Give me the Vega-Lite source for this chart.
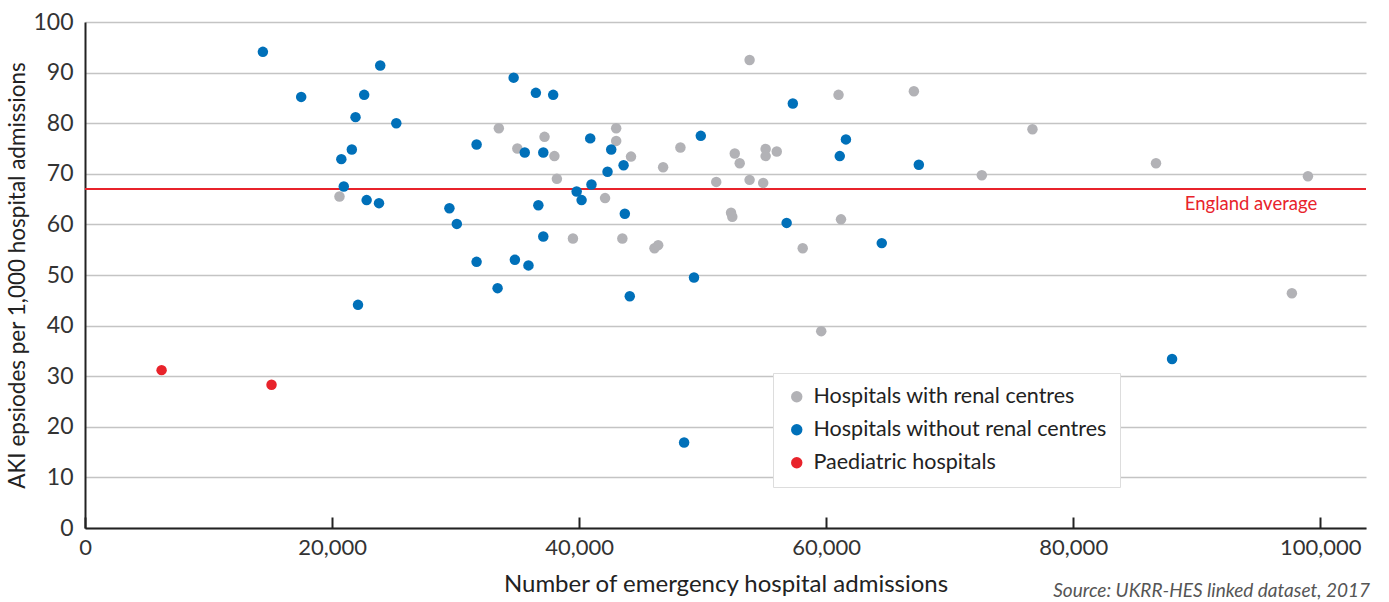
{
  "$schema": "https://vega.github.io/schema/vega-lite/v6.json",
  "autosize": {"type": "none"},
  "width": 1281,
  "height": 506,
  "padding": {"left": 85, "top": 22, "right": 23, "bottom": 74},
  "background": "white",
  "config": {
    "font": "Lato",
    "view": {"stroke": null}
  },
  "title": {
    "text": "Source: UKRR-HES linked dataset, 2017",
    "orient": "bottom",
    "anchor": "end",
    "frame": "group",
    "font": "Lato",
    "fontStyle": "italic",
    "fontWeight": "normal",
    "fontSize": 19,
    "color": "#555555",
    "dx": 4,
    "dy": -18
  },
  "datasets": {
    "hospitals": [
      {"admissions": 20600, "aki": 65.5, "type": "Hospitals with renal centres"},
      {"admissions": 33500, "aki": 79.0, "type": "Hospitals with renal centres"},
      {"admissions": 35000, "aki": 75.0, "type": "Hospitals with renal centres"},
      {"admissions": 37200, "aki": 77.3, "type": "Hospitals with renal centres"},
      {"admissions": 38000, "aki": 73.5, "type": "Hospitals with renal centres"},
      {"admissions": 38200, "aki": 69.0, "type": "Hospitals with renal centres"},
      {"admissions": 39500, "aki": 57.2, "type": "Hospitals with renal centres"},
      {"admissions": 42100, "aki": 65.2, "type": "Hospitals with renal centres"},
      {"admissions": 43000, "aki": 79.0, "type": "Hospitals with renal centres"},
      {"admissions": 43000, "aki": 76.5, "type": "Hospitals with renal centres"},
      {"admissions": 44200, "aki": 73.4, "type": "Hospitals with renal centres"},
      {"admissions": 43500, "aki": 57.2, "type": "Hospitals with renal centres"},
      {"admissions": 46100, "aki": 55.3, "type": "Hospitals with renal centres"},
      {"admissions": 46400, "aki": 55.9, "type": "Hospitals with renal centres"},
      {"admissions": 46800, "aki": 71.3, "type": "Hospitals with renal centres"},
      {"admissions": 48200, "aki": 75.2, "type": "Hospitals with renal centres"},
      {"admissions": 51100, "aki": 68.4, "type": "Hospitals with renal centres"},
      {"admissions": 52300, "aki": 62.3, "type": "Hospitals with renal centres"},
      {"admissions": 52400, "aki": 61.5, "type": "Hospitals with renal centres"},
      {"admissions": 52600, "aki": 74.0, "type": "Hospitals with renal centres"},
      {"admissions": 53000, "aki": 72.1, "type": "Hospitals with renal centres"},
      {"admissions": 53800, "aki": 68.8, "type": "Hospitals with renal centres"},
      {"admissions": 53800, "aki": 92.5, "type": "Hospitals with renal centres"},
      {"admissions": 54900, "aki": 68.2, "type": "Hospitals with renal centres"},
      {"admissions": 55100, "aki": 74.9, "type": "Hospitals with renal centres"},
      {"admissions": 55100, "aki": 73.5, "type": "Hospitals with renal centres"},
      {"admissions": 56000, "aki": 74.4, "type": "Hospitals with renal centres"},
      {"admissions": 58100, "aki": 55.3, "type": "Hospitals with renal centres"},
      {"admissions": 59600, "aki": 38.9, "type": "Hospitals with renal centres"},
      {"admissions": 61000, "aki": 85.6, "type": "Hospitals with renal centres"},
      {"admissions": 61200, "aki": 61.0, "type": "Hospitals with renal centres"},
      {"admissions": 67100, "aki": 86.3, "type": "Hospitals with renal centres"},
      {"admissions": 72600, "aki": 69.7, "type": "Hospitals with renal centres"},
      {"admissions": 76700, "aki": 78.8, "type": "Hospitals with renal centres"},
      {"admissions": 86700, "aki": 72.1, "type": "Hospitals with renal centres"},
      {"admissions": 97700, "aki": 46.4, "type": "Hospitals with renal centres"},
      {"admissions": 99000, "aki": 69.5, "type": "Hospitals with renal centres"},
      {"admissions": 14400, "aki": 94.1, "type": "Hospitals without renal centres"},
      {"admissions": 17500, "aki": 85.2, "type": "Hospitals without renal centres"},
      {"admissions": 20750, "aki": 72.9, "type": "Hospitals without renal centres"},
      {"admissions": 20950, "aki": 67.5, "type": "Hospitals without renal centres"},
      {"admissions": 21600, "aki": 74.8, "type": "Hospitals without renal centres"},
      {"admissions": 21900, "aki": 81.2, "type": "Hospitals without renal centres"},
      {"admissions": 22100, "aki": 44.1, "type": "Hospitals without renal centres"},
      {"admissions": 22600, "aki": 85.6, "type": "Hospitals without renal centres"},
      {"admissions": 22800, "aki": 64.8, "type": "Hospitals without renal centres"},
      {"admissions": 23800, "aki": 64.2, "type": "Hospitals without renal centres"},
      {"admissions": 23900, "aki": 91.4, "type": "Hospitals without renal centres"},
      {"admissions": 25200, "aki": 80.0, "type": "Hospitals without renal centres"},
      {"admissions": 29500, "aki": 63.2, "type": "Hospitals without renal centres"},
      {"admissions": 30100, "aki": 60.1, "type": "Hospitals without renal centres"},
      {"admissions": 31700, "aki": 75.8, "type": "Hospitals without renal centres"},
      {"admissions": 31700, "aki": 52.6, "type": "Hospitals without renal centres"},
      {"admissions": 33400, "aki": 47.4, "type": "Hospitals without renal centres"},
      {"admissions": 34700, "aki": 89.0, "type": "Hospitals without renal centres"},
      {"admissions": 34800, "aki": 53.0, "type": "Hospitals without renal centres"},
      {"admissions": 35600, "aki": 74.2, "type": "Hospitals without renal centres"},
      {"admissions": 35900, "aki": 51.9, "type": "Hospitals without renal centres"},
      {"admissions": 36500, "aki": 86.0, "type": "Hospitals without renal centres"},
      {"admissions": 36700, "aki": 63.8, "type": "Hospitals without renal centres"},
      {"admissions": 37100, "aki": 74.2, "type": "Hospitals without renal centres"},
      {"admissions": 37100, "aki": 57.6, "type": "Hospitals without renal centres"},
      {"admissions": 37900, "aki": 85.6, "type": "Hospitals without renal centres"},
      {"admissions": 39800, "aki": 66.5, "type": "Hospitals without renal centres"},
      {"admissions": 40200, "aki": 64.8, "type": "Hospitals without renal centres"},
      {"admissions": 40900, "aki": 77.0, "type": "Hospitals without renal centres"},
      {"admissions": 41000, "aki": 67.9, "type": "Hospitals without renal centres"},
      {"admissions": 42300, "aki": 70.4, "type": "Hospitals without renal centres"},
      {"admissions": 42600, "aki": 74.8, "type": "Hospitals without renal centres"},
      {"admissions": 43600, "aki": 71.7, "type": "Hospitals without renal centres"},
      {"admissions": 43700, "aki": 62.1, "type": "Hospitals without renal centres"},
      {"admissions": 44100, "aki": 45.8, "type": "Hospitals without renal centres"},
      {"admissions": 48500, "aki": 16.9, "type": "Hospitals without renal centres"},
      {"admissions": 49300, "aki": 49.5, "type": "Hospitals without renal centres"},
      {"admissions": 49850, "aki": 77.5, "type": "Hospitals without renal centres"},
      {"admissions": 56800, "aki": 60.3, "type": "Hospitals without renal centres"},
      {"admissions": 57300, "aki": 83.9, "type": "Hospitals without renal centres"},
      {"admissions": 61100, "aki": 73.5, "type": "Hospitals without renal centres"},
      {"admissions": 61600, "aki": 76.8, "type": "Hospitals without renal centres"},
      {"admissions": 64500, "aki": 56.3, "type": "Hospitals without renal centres"},
      {"admissions": 67500, "aki": 71.8, "type": "Hospitals without renal centres"},
      {"admissions": 88000, "aki": 33.4, "type": "Hospitals without renal centres"},
      {"admissions": 6200, "aki": 31.2, "type": "Paediatric hospitals"},
      {"admissions": 15100, "aki": 28.3, "type": "Paediatric hospitals"}
    ],
    "average": [
      {"label": "England average", "aki": 67}
    ]
  },
  "layer": [
    {
      "data": {"name": "average"},
      "mark": {"type": "rule", "color": "#e8232b", "strokeWidth": 2},
      "encoding": {
        "y": {"field": "aki", "type": "quantitative", "scale": {"domain": [0, 100]}}
      }
    },
    {
      "data": {"name": "average"},
      "mark": {"type": "text", "color": "#e8232b", "font": "Lato", "fontSize": 18.5, "align": "right", "baseline": "top", "dy": 6},
      "encoding": {
        "x": {"datum": 99750, "type": "quantitative"},
        "y": {"field": "aki", "type": "quantitative"},
        "text": {"field": "label"}
      }
    },
    {
      "data": {"name": "hospitals"},
      "mark": {"type": "circle", "size": 110, "opacity": 1},
      "encoding": {
        "x": {
          "field": "admissions",
          "type": "quantitative",
          "scale": {"domain": [0, 103700], "nice": false, "zero": true},
          "axis": {
            "title": "Number of emergency hospital admissions",
            "values": [0, 20000, 40000, 60000, 80000, 100000],
            "format": ",d",
            "grid": false,
            "domainColor": "#222222",
            "domainWidth": 2,
            "tickColor": "#222222",
            "tickWidth": 2,
            "tickSize": -11,
            "labelFont": "Lato",
            "labelFontSize": 22,
            "labelColor": "#333333",
            "labelPadding": 20,
            "labelFlush": false,
            "titleFont": "Lato",
            "titleFontSize": 24,
            "titleFontWeight": "normal",
            "titleColor": "#222222",
            "titlePadding": 14
          }
        },
        "y": {
          "field": "aki",
          "type": "quantitative",
          "scale": {"domain": [0, 100], "nice": false},
          "axis": {
            "title": "AKI epsiodes per 1,000 hospital admissions",
            "values": [0, 10, 20, 30, 40, 50, 60, 70, 80, 90, 100],
            "grid": true,
            "gridColor": "#c4c4c4",
            "gridWidth": 1.5,
            "ticks": false,
            "domainColor": "#222222",
            "domainWidth": 2,
            "labelFont": "Lato",
            "labelFontSize": 23,
            "labelColor": "#333333",
            "labelPadding": 12,
            "labelFlush": false,
            "titleFont": "Lato",
            "titleFontSize": 22.5,
            "titleFontWeight": "normal",
            "titleColor": "#222222",
            "titlePadding": 3
          }
        },
        "color": {
          "field": "type",
          "type": "nominal",
          "scale": {
            "domain": ["Hospitals with renal centres", "Hospitals without renal centres", "Paediatric hospitals"],
            "range": ["#b2b2b6", "#0070b9", "#e8232b"]
          },
          "legend": {
            "title": null,
            "orient": "none",
            "legendX": 688,
            "legendY": 351,
            "fillColor": "white",
            "strokeColor": "#dddddd",
            "padding": 13,
            "symbolType": "circle",
            "symbolSize": 130,
            "symbolStrokeWidth": 0,
            "labelFont": "Lato",
            "labelFontSize": 21.5,
            "labelColor": "#222222",
            "labelOffset": 6,
            "rowPadding": 10,
            "labelLimit": 400
          }
        }
      }
    }
  ]
}
